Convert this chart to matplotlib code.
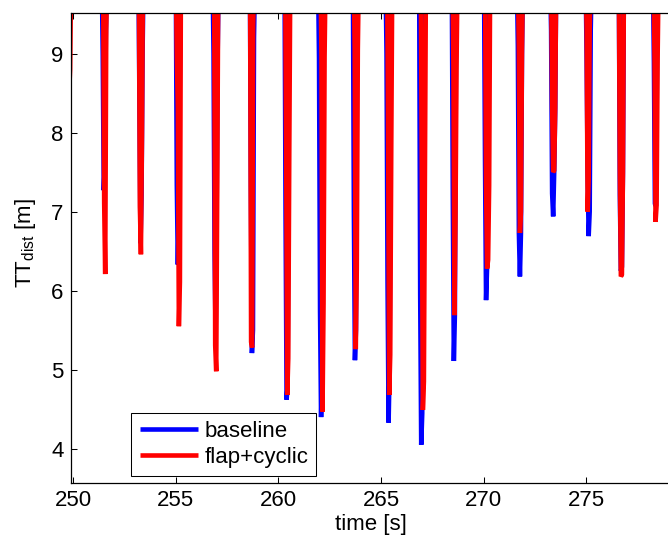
import numpy as np
import matplotlib
matplotlib.use("Agg")
import matplotlib.pyplot as plt
from matplotlib.legend_handler import HandlerLine2D

plt.rcParams['font.family'] = ['Liberation Sans', 'DejaVu Sans']
plt.rcParams['mathtext.fontset'] = 'custom'
plt.rcParams['mathtext.rm'] = 'Liberation Sans'
plt.rcParams['mathtext.it'] = 'Liberation Sans:italic'

# ---- data ----
sample_dt = 0.05          # s, sample spacing inside one tower passage
off_value = 10.0          # clearance outside the passage (above the view)

red_start = [249.70, 251.46, 253.20, 255.00, 256.87, 258.62, 260.33, 262.05, 263.67,
             265.30, 266.94, 268.48, 270.07, 271.67, 273.29, 274.97, 276.59, 278.28]
red_samples = [
    [8.0, 8.5, 8.80],
    [7.11, 6.21, 9.31],
    [7.06, 6.46, 7.94],
    [8.96, 8.31, 5.55, 6.11],
    [5.31, 4.98, 7.38],
    [5.35, 5.28, 9.36],
    [7.70, 4.68, 5.14, 7.75],
    [8.96, 4.47, 5.84, 8.96],
    [9.05, 5.26, 6.28, 9.05],
    [7.82, 4.68, 5.19, 7.82],
    [7.46, 4.49, 4.85, 7.46],
    [8.84, 5.69, 6.89, 8.84],
    [7.33, 6.28, 6.39, 7.33],
    [9.03, 6.73, 7.00, 9.03],
    [8.32, 7.50, 7.52, 8.32],
    [9.33, 7.00, 7.40, 9.33],
    [7.48, 6.18, 6.20, 7.48],
    [8.94, 6.87, 7.08, 8.94],
]

blue_start = [251.39, 253.18, 255.00, 256.79, 258.61, 260.30, 261.93, 263.63, 265.22,
              266.86, 268.45, 270.02, 271.62, 273.24, 274.97, 276.59, 278.25]
blue_samples = [
    [8.99, 7.27, 7.60, 9.20],
    [8.33, 6.60, 7.20, 9.00],
    [7.34, 6.33, 7.00, 8.90],
    [9.00, 6.48, 5.42, 7.00, 9.00],
    [7.30, 5.21, 5.50, 9.20],
    [6.94, 4.62, 4.80, 8.57],
    [8.94, 5.73, 4.40, 5.00, 8.50],
    [6.96, 5.12, 5.50, 8.90],
    [9.00, 6.10, 4.33, 5.02, 8.90],
    [5.95, 4.05, 4.45, 9.10],
    [7.20, 5.11, 5.69, 8.80],
    [7.63, 5.88, 6.30, 7.40],
    [9.10, 6.73, 6.18, 6.73, 9.00],
    [9.30, 7.23, 6.94, 7.50, 8.30],
    [8.96, 7.50, 6.69, 7.00, 9.30],
    [7.21, 6.25, 6.30, 7.50],
    [8.90, 7.10, 7.07, 8.90],
]

x_ticks = [250, 255, 260, 265, 270, 275]
y_ticks = [4, 5, 6, 7, 8, 9]
series_labels = ['baseline', 'flap+cyclic']


def build(starts, samples):
    t_all, v_all = [], []
    for t0, seq in zip(starts, samples):
        vals = [off_value] + list(seq) + [off_value]
        t_all.extend(t0 + sample_dt * np.arange(len(vals)))
        v_all.extend(vals)
        t_all.append(np.nan)
        v_all.append(np.nan)
    return np.array(t_all), np.array(v_all)


tb, vb = build(blue_start, blue_samples)
tr, vr = build(red_start, red_samples)

W, H = 668, 542
fs = 16
fig = plt.figure(figsize=(W / 100, H / 100), dpi=100)
ax_l, ax_r, ax_t, ax_b = 70.5, 671.5, 12.5, 483.0
ax = fig.add_axes([ax_l / W, 1 - ax_b / H, (ax_r - ax_l) / W, (ax_b - ax_t) / H])

ax.plot(tb, vb, color=(0, 0, 1), lw=3.3, solid_joinstyle='bevel', solid_capstyle='butt',
        label=series_labels[0])
ax.plot(tr, vr, color=(1, 0, 0), lw=3.3, solid_joinstyle='bevel', solid_capstyle='butt',
        label=series_labels[1])

px_per_s = 20.52
x_left = 250 + (ax_l - 73.2) / px_per_s
x_right = 250 + (ax_r - 73.2) / px_per_s
ax.set_xlim(x_left, x_right)
ax.set_ylim(3.566, 9.52)

ax.set_xticks(x_ticks)
ax.set_yticks(y_ticks)
ax.tick_params(direction='in', length=4.5, width=0.75, labelsize=fs, top=True,
               right=False, pad=5, colors='black')
for s in ax.spines.values():
    s.set_linewidth(0.9)
    s.set_color('black')

ax.set_xlabel('time [s]', fontsize=fs, labelpad=2)
ax.set_ylabel(r'TT$_{\mathrm{dist}}$ [m]', fontsize=fs)
ax.yaxis.set_label_coords(-0.054, 0.51)

hmap = {line: HandlerLine2D(xpad=0.085) for line in ax.get_lines()}
leg = ax.legend(loc='lower left',
                bbox_to_anchor=(130.5 / W, 1 - 476 / H, 185 / W, 63 / H),
                bbox_transform=fig.transFigure, borderaxespad=0, fontsize=fs,
                mode='expand', handler_map=hmap,
                handlelength=2.665, handletextpad=0.32, borderpad=0.36,
                labelspacing=0.235, fancybox=False, framealpha=1)
leg.get_frame().set_edgecolor('black')
leg.get_frame().set_linewidth(0.75)

fig.savefig('out.png', dpi=100)
